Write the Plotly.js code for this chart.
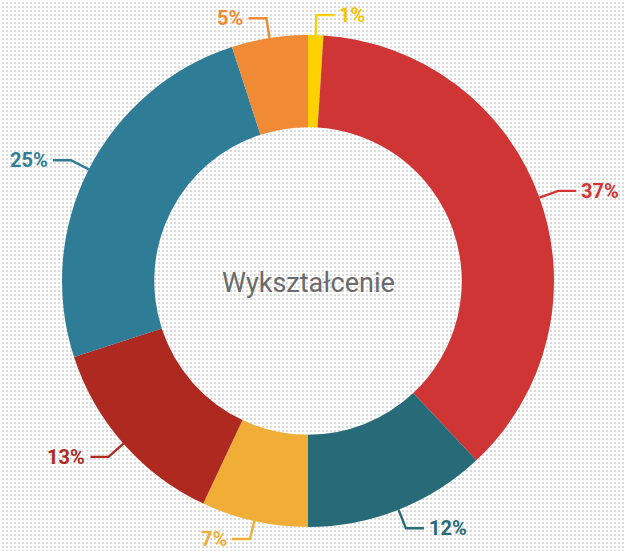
<!DOCTYPE html>
<html><head><meta charset="utf-8">
<script src="https://cdn.plot.ly/plotly-3.0.1.min.js"></script>
<style>
html,body{margin:0;padding:0;}
body{width:625px;height:551px;background-color:#ffffff;
background-image:radial-gradient(circle,#dadada 0.8px,rgba(255,255,255,0) 1.1px);
background-size:4px 4px;background-position:1px 1px;}
#chart{width:625px;height:551px;}
</style></head>
<body><div id="chart"></div>
<script>
const labels = ["a","b","c","d","e","f","g"];
const values = [1, 37, 12, 7, 13, 25, 5];
const textLabels = ["1%","37%","12%","7%","13%","25%","5%"];
const colors = ["#FFD100","#CF3535","#286B78","#F1AE36","#AE2920","#2F7C97","#F08A35"];
const textColors = ["#F5C400","#CF3535","#286B78","#F1AE36","#AE2920","#2F7C97","#F08A35"];
const centerTitle = "Wykształcenie";

const W = 625, H = 551;
const cx = 308, cy = 281, R = 246;
const holeFrac = 0.625;
const fs = 20;

const total = values.reduce((a,b)=>a+b,0);
const shapes = [], annotations = [];
const px = x => x / W, py = y => 1 - y / H;
let cum = 0;
values.forEach((v,i)=>{
  const mid = (cum + v/2) / total * 2 * Math.PI;
  cum += v;
  const s = Math.sin(mid), c = Math.cos(mid);
  const x0 = cx + R*s, y0 = cy - R*c;
  const x1 = cx + (R+20)*s, y1 = Math.min(cy - (R+20)*c, H - 12);
  const dir = s >= 0 ? 1 : -1;
  const x2 = x1 + dir*18;
  const path = `M${px(x0)},${py(y0)} L${px(x1)},${py(y1)} L${px(x2)},${py(y1)}`;
  shapes.push({type:'path', xref:'paper', yref:'paper', path:path,
    line:{color:colors[i], width:2.4}});
  annotations.push({xref:'paper', yref:'paper', x:px(x2 + dir*3), y:py(y1),
    xanchor: dir>0 ? 'left':'right', yanchor:'middle', showarrow:false,
    text:'<b>'+textLabels[i]+'</b>',
    font:{family:'Roboto, sans-serif', size:fs, color:textColors[i]}});
});
annotations.push({xref:'paper', yref:'paper', x:px(cx), y:py(cy+2), xanchor:'center', yanchor:'middle',
  showarrow:false, text:centerTitle,
  font:{family:'Roboto, sans-serif', size:27, color:'#6a6a6a'}});

const data = [{
  type:'pie', labels:labels, values:values, sort:false, direction:'clockwise', rotation:0,
  hole:holeFrac, textinfo:'none', hoverinfo:'none',
  marker:{colors:colors, line:{width:0}},
  domain:{x:[(cx-R)/W,(cx+R)/W], y:[1-(cy+R)/H, 1-(cy-R)/H]},
  showlegend:false
}];
const layout = {width:W, height:H, margin:{l:0,r:0,t:0,b:0},
  paper_bgcolor:'rgba(0,0,0,0)', plot_bgcolor:'rgba(0,0,0,0)',
  shapes:shapes, annotations:annotations, showlegend:false};
Plotly.newPlot('chart', data, layout, {displayModeBar:false, staticPlot:true});
</script></body></html>
